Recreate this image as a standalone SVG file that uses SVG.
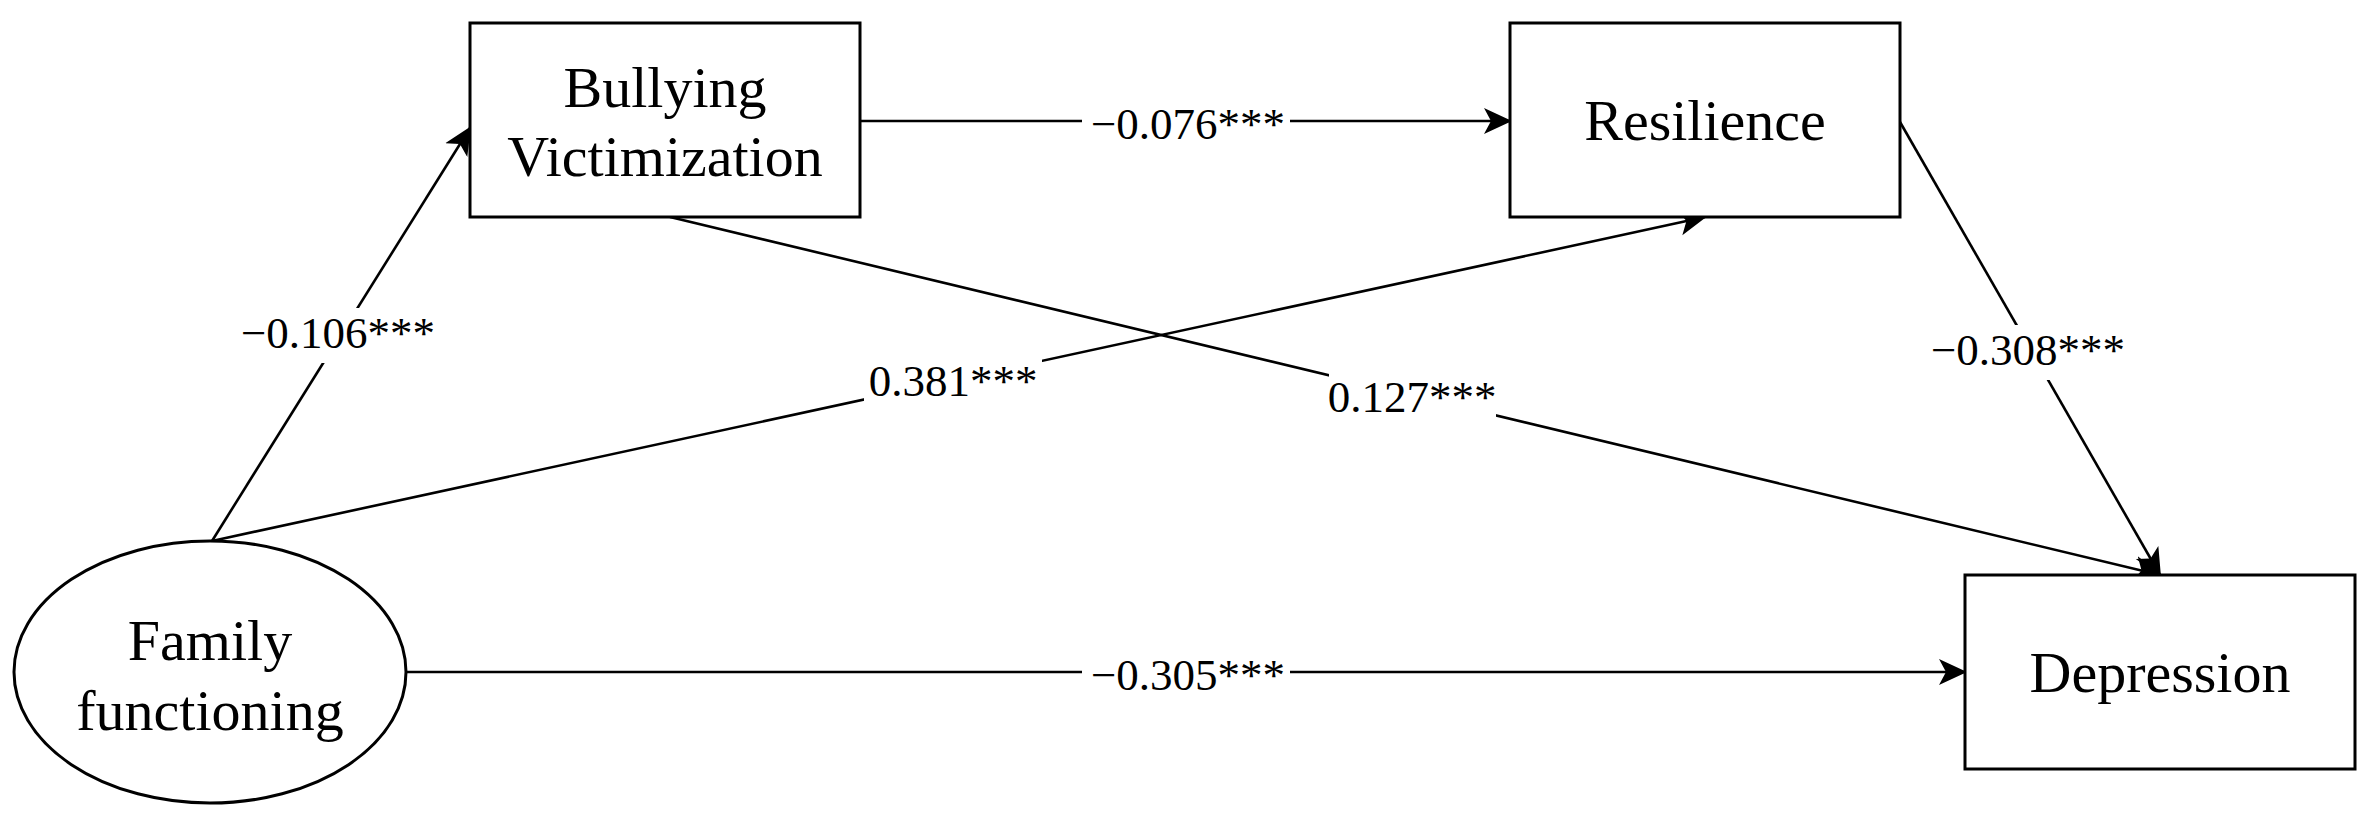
<svg xmlns="http://www.w3.org/2000/svg" width="2375" height="822" viewBox="0 0 2375 822">
  <style>
    .node { fill: #ffffff; stroke: #000000; stroke-width: 3; }
    .ntext { font-family: "Liberation Serif", "Times New Roman", serif; font-size: 58px; fill: #000000; text-anchor: middle; }
    .edge { fill: none; stroke: #000000; stroke-width: 2.6; }
    .lbg { fill: #ffffff; stroke: none; }
    .ltext { font-family: "Liberation Serif", "Times New Roman", serif; font-size: 45px; fill: #000000; text-anchor: middle; }
  </style>
  <defs>
    <marker id="arrow" markerUnits="userSpaceOnUse" viewBox="0 0 28 28" markerWidth="28" markerHeight="28" refX="26" refY="14" orient="auto">
      <path d="M28,14 L0,1 L7,14 L0,27 Z" fill="#000000"/>
    </marker>
  </defs>
  <rect width="2375" height="822" fill="#ffffff"/>

  <g id="connectors">
    <line class="edge" x1="212" y1="541" x2="470" y2="128" marker-end="url(#arrow)"/>
    <line class="edge" x1="212" y1="541" x2="1705" y2="217" marker-end="url(#arrow)"/>
    <line class="edge" x1="406" y1="672" x2="1965" y2="672" marker-end="url(#arrow)"/>
    <line class="edge" x1="860" y1="121" x2="1510" y2="121" marker-end="url(#arrow)"/>
    <line class="edge" x1="670" y1="217" x2="2160" y2="575" marker-end="url(#arrow)"/>
    <line class="edge" x1="1900" y1="122" x2="2160" y2="575" marker-end="url(#arrow)"/>

    <g id="label-fb">
      <rect class="lbg" x="238" y="308" width="201" height="55"/>
      <text class="ltext" x="338" y="348">−0.106***</text>
    </g>
    <g id="label-br">
      <rect class="lbg" x="1082" y="100" width="208" height="50"/>
      <text class="ltext" x="1188" y="139">−0.076***</text>
    </g>
    <g id="label-fr">
      <rect class="lbg" x="864" y="356" width="178" height="55"/>
      <text class="ltext" x="953" y="396">0.381***</text>
    </g>
    <g id="label-bd">
      <rect class="lbg" x="1329" y="372" width="167" height="55"/>
      <text class="ltext" x="1412" y="412">0.127***</text>
    </g>
    <g id="label-rd">
      <rect class="lbg" x="1928" y="325" width="201" height="55"/>
      <text class="ltext" x="2028" y="365">−0.308***</text>
    </g>
    <g id="label-fd">
      <rect class="lbg" x="1082" y="650" width="208" height="50"/>
      <text class="ltext" x="1188" y="690">−0.305***</text>
    </g>
  </g>

  <g id="node-family">
    <ellipse class="node" cx="210" cy="672" rx="196" ry="131"/>
    <text class="ntext" x="210" y="660">Family</text>
    <text class="ntext" x="210" y="730">functioning</text>
  </g>
  <g id="node-bullying">
    <rect class="node" x="470" y="23" width="390" height="194"/>
    <text class="ntext" x="665" y="107">Bullying</text>
    <text class="ntext" x="665" y="176">Victimization</text>
  </g>
  <g id="node-resilience">
    <rect class="node" x="1510" y="23" width="390" height="194"/>
    <text class="ntext" x="1705" y="140">Resilience</text>
  </g>
  <g id="node-depression">
    <rect class="node" x="1965" y="575" width="390" height="194"/>
    <text class="ntext" x="2160" y="692">Depression</text>
  </g>
</svg>
